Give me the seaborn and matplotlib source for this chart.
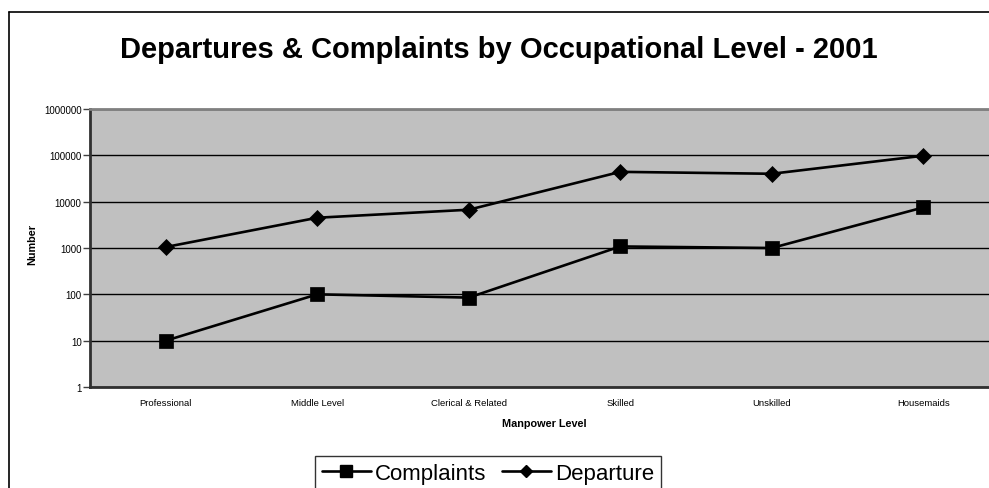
import matplotlib
matplotlib.use("Agg")
import matplotlib.pyplot as plt
import seaborn as sns
import pandas as pd
from matplotlib.lines import Line2D

levels = ['Professional', 'Middle Level', 'Clerical & Related', 'Skilled', 'Unskilled', 'Housemaids']
complaints = [10, 100, 85, 1080, 1000, 7500]
departure = [1050, 4500, 6700, 44000, 40000, 98000]

df = pd.DataFrame({
	'level': levels * 2,
	'value': complaints + departure,
	'series': ['Complaints'] * len(levels) + ['Departure'] * len(levels),
})

sns.set_style('white')
plt.rcParams['font.family'] = ['Liberation Sans', 'DejaVu Sans']
plt.rcParams['text.color'] = 'black'
plt.rcParams['axes.labelcolor'] = 'black'
plt.rcParams['xtick.color'] = 'black'
plt.rcParams['ytick.color'] = 'black'

fig = plt.figure(figsize=(9.89, 4.89), dpi=100)
W, H = 989.0, 489.0
ax = fig.add_axes([90 / W, 1 - 388 / H, 909 / W, 278 / H])
ax.set_facecolor('#C0C0C0')

sns.lineplot(data=df, x='level', y='value', hue='series', style='series',
	markers={'Complaints': 's', 'Departure': 'D'}, dashes=False,
	palette={'Complaints': 'black', 'Departure': 'black'},
	linewidth=1.9, ax=ax, legend=False, zorder=3)
for ln, ms in zip(ax.lines, [10.5, 8.5]):
	ln.set_markersize(ms)
	ln.set_markeredgewidth(0.5)
	ln.set_markeredgecolor('black')

ax.set_yscale('log')
ax.set_ylim(1, 1000000)
ax.set_yticks([1, 10, 100, 1000, 10000, 100000, 1000000])
ax.set_yticklabels(['1', '10', '100', '1000', '10000', '100000', '1000000'])
ax.minorticks_off()
ax.set_xlim(-0.5, len(levels) - 0.5)
ax.set_xticks(range(len(levels)))
ax.set_xticklabels(levels)
ax.set_xticks([i + 0.5 for i in range(len(levels) - 1)], minor=True)
ax.tick_params(axis='x', which='major', length=0, labelsize=6.8, pad=8)
ax.tick_params(axis='x', which='minor', length=4, width=1, color='#404040', direction='out')
ax.tick_params(axis='y', length=5, width=1, labelsize=7, pad=1, color='#404040', direction='out', left=True)
ax.grid(axis='y', color='black', linewidth=1)
ax.set_axisbelow(True)

for s in ['left', 'bottom']:
	ax.spines[s].set_color('#303030')
	ax.spines[s].set_linewidth(2)
ax.spines['top'].set_color('#808080')
ax.spines['top'].set_linewidth(2)
ax.spines['right'].set_visible(False)

ax.set_xlabel('Manpower Level', fontsize=7.8, fontweight='bold', labelpad=8)
ax.set_ylabel('Number', fontsize=7.8, fontweight='bold', labelpad=0)
ax.yaxis.set_label_coords(32 / W, 0.5, transform=fig.transFigure)
ax.yaxis.label.set_va('center')

fig.text(499 / W, 1 - 50 / H, 'Departures & Complaints by Occupational Level - 2001',
	ha='center', va='center', fontsize=21, fontweight='bold')

# chart area border (cut off at right and bottom)
fig.add_artist(Line2D([9 / W, 9 / W], [1 - 13 / H, 0], transform=fig.transFigure, color='black', lw=1.2))
fig.add_artist(Line2D([9 / W, 1], [1 - 13 / H, 1 - 13 / H], transform=fig.transFigure, color='black', lw=1.2))

handles = [Line2D([], [], color='black', lw=1.9, marker='s', markersize=8),
	Line2D([], [], color='black', lw=1.9, marker='D', markersize=6.5)]
leg = fig.legend(handles, ['Complaints', 'Departure'], loc='upper center',
	bbox_to_anchor=(488 / W, 1 - 457 / H), ncol=2, fontsize=16, frameon=True,
	fancybox=False, edgecolor='black', handlelength=2.2, columnspacing=0.7,
	handletextpad=0.2, borderpad=0.3, borderaxespad=0)
leg.get_frame().set_linewidth(1)

fig.savefig('out.png', dpi=100)
